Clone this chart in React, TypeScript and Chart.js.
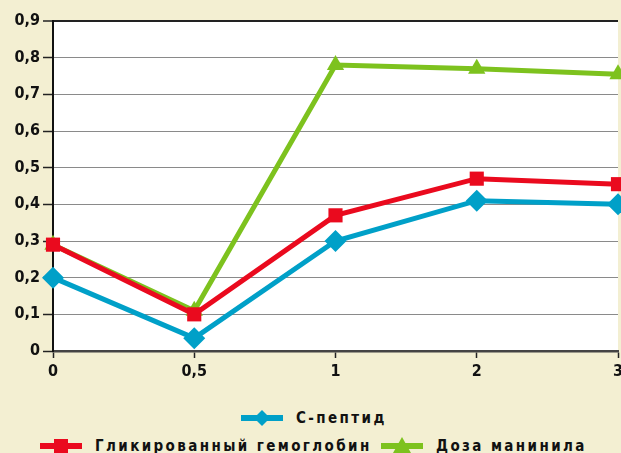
import React, { useEffect, useRef } from "react";
import { Chart, registerables } from "chart.js";

Chart.register(...registerables);

const X_LABELS = ["0", "0,5", "1", "2", "3"];
const C_PEPTIDE = [0.2, 0.035, 0.3, 0.41, 0.4];
const HBA1C = [0.29, 0.1, 0.37, 0.47, 0.455];
const MANINIL = [0.29, 0.11, 0.78, 0.77, 0.755];
const Y_TICK_LABELS = ["0", "0,1", "0,2", "0,3", "0,4", "0,5", "0,6", "0,7", "0,8", "0,9"];
const SERIES_NAMES = ["С-пептид", "Гликированный гемоглобин", "Доза манинила"];

const BLUE = "#00a0c8";
const RED = "#ea0a1e";
const GREEN = "#7dc21e";
const BG = "#f3efd2";
const FONT = "'DejaVu Sans Condensed', 'DejaVu Sans', sans-serif";

const plotBg = {
  id: "plotBg",
  beforeDraw(chart: any) {
    const { ctx, chartArea } = chart;
    ctx.save();
    ctx.fillStyle = "#ffffff";
    ctx.fillRect(chartArea.left, chartArea.top, chartArea.right - chartArea.left, chartArea.bottom - chartArea.top);
    ctx.restore();
  },
};

function Marker({ type, color }: { type: string; color: string }) {
  return (
    <svg width="44" height="20" style={{ display: "block" }}>
      <line x1="1" y1="10" x2="43" y2="10" stroke={color} strokeWidth="6" />
      {type === "diamond" && <polygon points="22,2 30,10 22,18 14,10" fill={color} />}
      {type === "square" && <rect x="15" y="3" width="14" height="14" fill={color} />}
      {type === "triangle" && <polygon points="22,1 31,17 13,17" fill={color} />}
    </svg>
  );
}

const legendText: React.CSSProperties = {
  fontFamily: FONT,
  fontWeight: 700,
  fontSize: 15,
  letterSpacing: "2.4px",
  color: "#111",
  whiteSpace: "nowrap",
  lineHeight: "20px",
};

export default function App() {
  const ref = useRef<HTMLCanvasElement>(null);
  useEffect(() => {
    document.body.style.margin = "0";
    const chart = new Chart(ref.current!, {
      type: "line",
      data: {
        labels: X_LABELS,
        datasets: [
          {
            label: SERIES_NAMES[0],
            data: C_PEPTIDE,
            borderColor: BLUE,
            backgroundColor: BLUE,
            borderWidth: 5,
            pointStyle: "rectRot",
            pointRadius: 11,
            pointBorderWidth: 0,
            tension: 0,
            clip: false as any,
          },
          {
            label: SERIES_NAMES[1],
            data: HBA1C,
            borderColor: RED,
            backgroundColor: RED,
            borderWidth: 5,
            pointStyle: "rect",
            pointRadius: 10,
            pointBorderWidth: 0,
            tension: 0,
            clip: false as any,
          },
          {
            label: SERIES_NAMES[2],
            data: MANINIL,
            borderColor: GREEN,
            backgroundColor: GREEN,
            borderWidth: 5,
            pointStyle: "triangle",
            pointRadius: 10,
            pointBorderWidth: 0,
            tension: 0,
            clip: false as any,
          },
        ],
      },
      options: {
        animation: false,
        responsive: false,
        layout: { autoPadding: false, padding: { top: 21, right: 3, left: 0, bottom: 0 } },
        plugins: { legend: { display: false }, tooltip: { enabled: false } },
        scales: {
          x: {
            type: "category",
            offset: false,
            grid: {
              drawOnChartArea: false,
              drawTicks: true,
              tickLength: 7,
              tickColor: "#222",
              tickWidth: 1.5,
            },
            border: { display: true, color: "#444", width: 2.5 },
            ticks: {
              color: "#111",
              font: { family: FONT, weight: "bold", size: 16 },
              padding: 4,
              maxRotation: 0,
              autoSkip: false,
            },
            afterFit(scale: any) {
              scale.height = 49;
              scale.paddingLeft = 0;
              scale.paddingRight = 0;
            },
          },
          y: {
            min: 0,
            max: 0.9,
            ticks: {
              stepSize: 0.1,
              color: "#111",
              font: { family: FONT, weight: "bold", size: 16 },
              padding: 3,
              callback: (_v: any, i: number) => Y_TICK_LABELS[i],
            },
            grid: {
              drawOnChartArea: true,
              tickLength: 10,
              color: (ctx: any) => (ctx.index === 9 ? "#222" : "#8a8a8a"),
              lineWidth: (ctx: any) => (ctx.index === 9 ? 2 : 1),
              borderDash: (ctx: any) => (ctx.index === 9 ? [] : [1, 1]),
              tickColor: "#222",
              tickWidth: 1.5,
            } as any,
            border: { display: true, color: "#111", width: 2 },
            afterFit(scale: any) {
              scale.width = 53;
            },
          },
        },
      },
      plugins: [plotBg],
    });
    return () => chart.destroy();
  }, []);

  return (
    <div style={{ position: "relative", width: 621, height: 453, background: BG, overflow: "hidden" }}>
      <canvas ref={ref} width={621} height={400} style={{ display: "block" }} />
      <div style={{ position: "absolute", left: 240, top: 408, display: "flex", alignItems: "center", gap: 12 }}>
        <Marker type="diamond" color={BLUE} />
        <span style={legendText}>{SERIES_NAMES[0]}</span>
      </div>
      <div style={{ position: "absolute", left: 39, top: 436, display: "flex", alignItems: "center", gap: 12 }}>
        <Marker type="square" color={RED} />
        <span style={legendText}>{SERIES_NAMES[1]}</span>
      </div>
      <div style={{ position: "absolute", left: 380, top: 436, display: "flex", alignItems: "center", gap: 12 }}>
        <Marker type="triangle" color={GREEN} />
        <span style={legendText}>{SERIES_NAMES[2]}</span>
      </div>
    </div>
  );
}
